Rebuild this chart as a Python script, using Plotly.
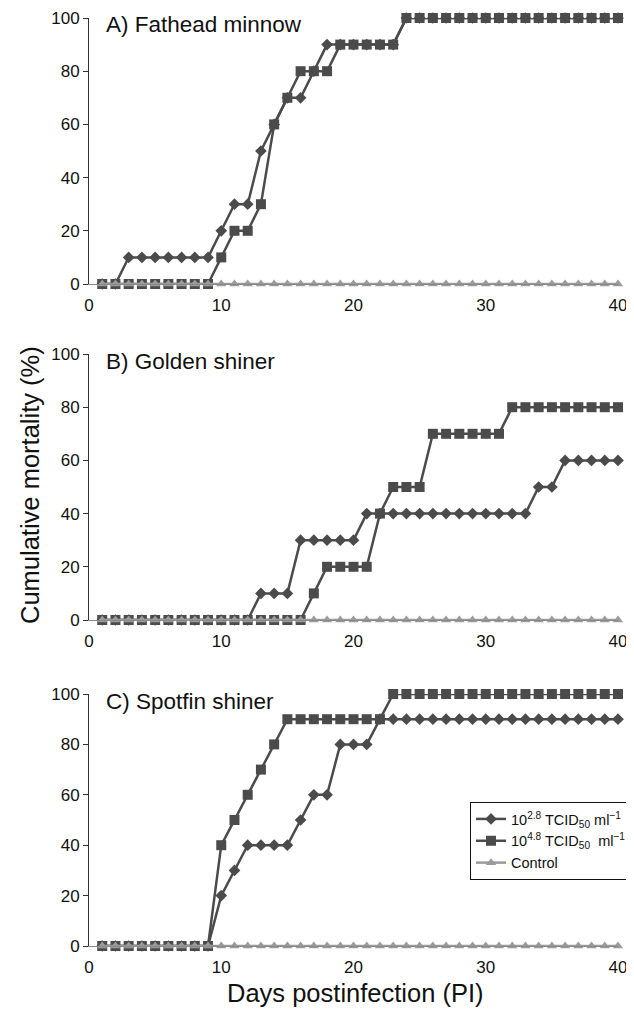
import plotly.graph_objects as go

days = list(range(1, 41))

# Panel A) Fathead minnow
a_low = [0, 0] + [10] * 7 + [20, 30, 30, 50, 60, 70, 70, 80, 90] + [90] * 5 + [100] * 17
a_high = [0] * 9 + [10, 20, 20, 30, 60, 70, 80, 80, 80] + [90] * 5 + [100] * 17
# Panel B) Golden shiner
b_low = [0] * 12 + [10] * 3 + [30] * 5 + [40] * 13 + [50] * 2 + [60] * 5
b_high = [0] * 16 + [10] + [20] * 4 + [40] + [50] * 3 + [70] * 6 + [80] * 9
# Panel C) Spotfin shiner
c_low = [0] * 9 + [20, 30] + [40] * 4 + [50] + [60] * 2 + [80] * 3 + [90] * 19
c_high = [0] * 9 + [40, 50, 60, 70, 80] + [90] * 8 + [100] * 18
control = [0] * 40

panel_titles = ["A) Fathead minnow", "B) Golden shiner", "C) Spotfin shiner"]
series_names = ["10<sup>2.8</sup> TCID<sub>50</sub> ml<sup>\u22121</sup>",
                "10<sup>4.8</sup> TCID<sub>50</sub>  ml<sup>\u22121</sup>",
                "Control"]
x_ticks = [0, 10, 20, 30, 40]
y_ticks = [0, 20, 40, 60, 80, 100]

OFF = 8  # default page body margin
W, H = 634 - OFF, 1012 - OFF
ML = 89 - OFF
MR = W - (618 - OFF)
PW = W - ML - MR
# screen pixel extents (top, bottom) of each panel
panels_px = [(18, 284), (354, 620), (694, 946)]


def px(sx):
    return (sx - OFF - ML) / PW


def py(sy):
    return 1 - (sy - OFF) / H


dark = "#4b4b4b"
light = "#9b9b9b"
FONT = "Liberation Sans, Arial, Helvetica, sans-serif"

fig = go.Figure()
data = [(a_low, a_high), (b_low, b_high), (c_low, c_high)]
for i, (low, high) in enumerate(data):
    xa = "x" if i == 0 else f"x{i+1}"
    ya = "y" if i == 0 else f"y{i+1}"
    show = (i == 2)
    fig.add_trace(go.Scatter(x=days, y=low, mode="lines+markers", name=series_names[0],
                             line=dict(color=dark, width=2.5),
                             marker=dict(symbol="diamond", size=9, color=dark),
                             xaxis=xa, yaxis=ya, showlegend=show, cliponaxis=False))
    fig.add_trace(go.Scatter(x=days, y=high, mode="lines+markers", name=series_names[1],
                             line=dict(color=dark, width=2.5),
                             marker=dict(symbol="square", size=10, color=dark),
                             xaxis=xa, yaxis=ya, showlegend=show, cliponaxis=False))
    fig.add_trace(go.Scatter(x=days, y=control, mode="lines+markers", name=series_names[2],
                             line=dict(color=light, width=2.5),
                             marker=dict(symbol="triangle-up", size=9, color=light),
                             xaxis=xa, yaxis=ya, showlegend=show, cliponaxis=False))

layout = dict(
    width=W, height=H,
    margin=dict(l=ML, r=MR, t=0, b=0, autoexpand=False),
    paper_bgcolor="white", plot_bgcolor="white",
    font=dict(family=FONT, color="#111111", size=17),
    showlegend=True,
    legend=dict(x=px(470), y=py(802), xanchor="left", yanchor="top",
                bordercolor="#111111", borderwidth=1, bgcolor="white",
                font=dict(size=14.5, family=FONT), tracegroupgap=2, itemwidth=30),
)
annotations = []
for i, (top, bot) in enumerate(panels_px):
    dom = [py(bot), py(top)]
    sx = "" if i == 0 else str(i + 1)
    layout[f"xaxis{sx}"] = dict(domain=[0, 1], range=[0, 40], anchor=f"y{sx}",
                                tickvals=x_ticks, showline=True, linecolor="#888888", linewidth=1,
                                ticks="", showgrid=False, zeroline=False, automargin=False,
                                ticklabelstandoff=6, tickfont=dict(size=17))
    layout[f"yaxis{sx}"] = dict(domain=dom, range=[0, 100], anchor=f"x{sx}",
                                tickvals=y_ticks, showline=True, linecolor="#333333", linewidth=1,
                                ticks="outside", ticklen=5, tickcolor="#333333", automargin=False,
                                showgrid=False, zeroline=False, tickfont=dict(size=17))
    cy = top + 7
    annotations.append(dict(text=panel_titles[i], xref="paper", yref="paper",
                            x=px(104), y=py(cy),
                            xanchor="left", yanchor="middle", showarrow=False,
                            font=dict(size=22.5, family=FONT, color="#111111")))
annotations.append(dict(text="Cumulative mortality (%)", xref="paper", yref="paper",
                        x=px(30), y=py(485), textangle=-90,
                        xanchor="center", yanchor="middle", showarrow=False,
                        font=dict(size=25.5, family=FONT, color="#111111")))
annotations.append(dict(text="Days postinfection (PI)", xref="paper", yref="paper",
                        x=px(355), y=py(993),
                        xanchor="center", yanchor="middle", showarrow=False,
                        font=dict(size=25.5, family=FONT, color="#111111")))
layout["annotations"] = annotations
fig.update_layout(**layout)

fig.write_html("out.html")
